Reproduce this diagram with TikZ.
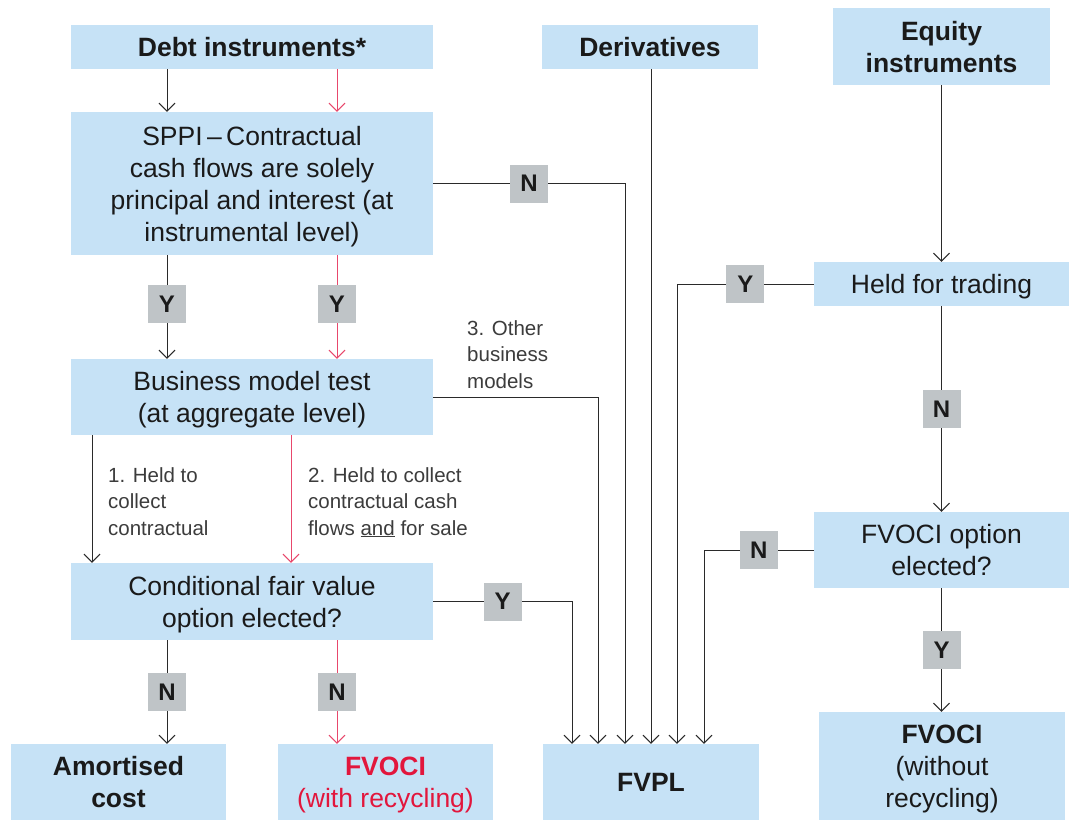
\documentclass[tikz,border=0pt]{standalone}
\usepackage{fontspec}
\setmainfont{Liberation Sans}
\usetikzlibrary{arrows.meta}
\definecolor{boxblue}{HTML}{C6E2F6}
\definecolor{tagg}{HTML}{BFC4C7}
\definecolor{lred}{HTML}{E8486C}
\definecolor{tred}{HTML}{E2163C}
\definecolor{ink}{HTML}{1A1A1A}
\definecolor{lineink}{HTML}{2A2A2A}
\newcommand{\lsx}{\rule[-6pt]{0pt}{31pt}}
\begin{document}
\begin{tikzpicture}[x=1pt,y=-1pt,
  box/.style={fill=boxblue, inner sep=0pt, align=center, text=ink, font=\fontsize{26.5}{32}\selectfont},
  boldbox/.style={box, font=\bfseries\fontsize{26.5}{32}\selectfont},
  yn/.style={fill=tagg, minimum size=38pt, inner sep=0pt, text=ink, font=\bfseries\fontsize{24}{24}\selectfont},
  conn/.style={draw=lineink, line width=1pt, -{Straight Barb[length=8pt,width=16pt]}},
  redconn/.style={conn, draw=lred},
  note/.style={anchor=north west, inner sep=0pt, align=left, text=ink!85, font=\fontsize{20.5}{26.5}\selectfont}]
\useasboundingbox[fill=white] (0,0) rectangle (1069,820);

% boxes
\node[boldbox, minimum width=362, minimum height=44] (debt) at (252,47) {\lsx Debt instruments*};
\node[boldbox, minimum width=216, minimum height=44] (deriv) at (650,47) {\lsx Derivatives};
\node[boldbox, minimum width=217, minimum height=77] (equity) at (941.5,46.5) {\lsx Equity\\instruments\lsx};
\node[box, minimum width=362, minimum height=143] (sppi) at (252,183.5) {\lsx SPPI\,--\,Contractual\\cash flows are solely\\principal and interest (at\\instrumental level)\lsx};
\node[box, minimum width=255, minimum height=44] (hft) at (941.5,284) {\lsx Held for trading};
\node[box, minimum width=362, minimum height=76] (bmt) at (252,397) {\lsx Business model test\\(at aggregate level)\lsx};
\node[box, minimum width=362, minimum height=77] (cfv) at (252,601.5) {\lsx Conditional fair value\\option elected?\lsx};
\node[box, minimum width=255, minimum height=76] (opt) at (941.5,550) {\lsx FVOCI option\\elected?\lsx};
\node[boldbox, minimum width=215, minimum height=76] (amort) at (118.5,782) {\lsx Amortised\\cost\lsx};
\node[box, minimum width=215, minimum height=76, text=tred] (fvoci) at (385.5,782) {\lsx\textbf{FVOCI}\\(with recycling)\lsx};
\node[boldbox, minimum width=216, minimum height=76] (fvpl) at (651,782) {\lsx FVPL};
\node[box, minimum width=246, minimum height=108] (fvociw) at (942,766) {\lsx\textbf{FVOCI}\\(without\\recycling)\lsx};

% guide coordinates
\coordinate (xL) at (167,0);
\coordinate (xR) at (337,0);
\coordinate (xB1) at (92,0);
\coordinate (xB2) at (291,0);
\coordinate (xF1) at (572,0);
\coordinate (xF2) at (598,0);
\coordinate (xF3) at (625,0);
\coordinate (xF4) at (651,0);
\coordinate (xF5) at (677,0);
\coordinate (xF6) at (704,0);

% debt column
\draw[conn] (xL |- debt.south) -- (xL |- sppi.north);
\draw[redconn] (xR |- debt.south) -- (xR |- sppi.north);
\draw[conn] (xL |- sppi.south) -- node[yn, pos=0.47]{Y} (xL |- bmt.north);
\draw[redconn] (xR |- sppi.south) -- node[yn, pos=0.47]{Y} (xR |- bmt.north);
\draw[conn] (xB1 |- bmt.south) -- (xB1 |- cfv.north);
\draw[redconn] (xB2 |- bmt.south) -- (xB2 |- cfv.north);
\draw[conn] (xL |- cfv.south) -- node[yn]{N} (xL |- amort.north);
\draw[redconn] (xR |- cfv.south) -- node[yn]{N} (xR |- fvoci.north);

% to FVPL
\draw[conn] (cfv.east) -- node[yn]{Y} (xF1 |- cfv.east) -- (xF1 |- fvpl.north);
\draw[conn] (bmt.east) -- (xF2 |- bmt.east) -- (xF2 |- fvpl.north);
\draw[conn] (sppi.east) -- node[yn]{N} (xF3 |- sppi.east) -- (xF3 |- fvpl.north);
\draw[conn] (xF4 |- deriv.south) -- (xF4 |- fvpl.north);
\draw[conn] (hft.west) -- node[yn]{Y} (xF5 |- hft.west) -- (xF5 |- fvpl.north);
\draw[conn] (opt.west) -- node[yn]{N} (xF6 |- opt.west) -- (xF6 |- fvpl.north);

% equity column
\draw[conn] (equity.south) -- (hft.north);
\draw[conn] (hft.south) -- node[yn]{N} (opt.north);
\draw[conn] (opt.south) -- node[yn]{Y} (opt.south |- fvociw.north);

% notes
\node[note] (n1) at (108,467) {1. Held to\\collect\\contractual};
\node[note] (n2) at (308,467) {2. Held to collect\\contractual cash\\flows \underline{and} for sale};
\node[note] (n3) at (467,320) {3. Other\\business\\models};
\end{tikzpicture}
\end{document}
